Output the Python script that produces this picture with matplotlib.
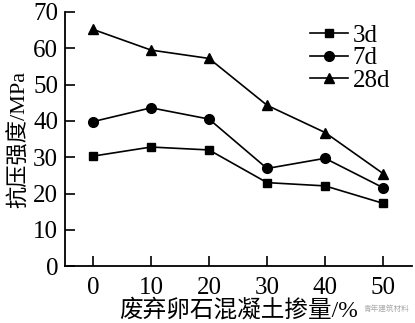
import matplotlib
matplotlib.use("Agg")
import matplotlib.pyplot as plt

plt.rcParams['font.family'] = ['Liberation Serif', 'Noto Sans CJK SC']
plt.rcParams['mathtext.fontset'] = 'stix'

# content of waste pebble concrete, %
dosage = [0, 10, 20, 30, 40, 50]
# compressive strength, MPa
s3d = [30.3, 32.8, 32.0, 23.0, 22.1, 17.3]
s7d = [39.8, 43.6, 40.5, 26.9, 29.7, 21.6]
s28d = [65.2, 59.5, 57.2, 44.3, 36.8, 25.5]
labels = ['3d', '7d', '28d']
yticks = [0, 10, 20, 30, 40, 50, 60, 70]

fig = plt.figure(figsize=(4.15, 3.23), dpi=100)
ax = fig.add_axes([0.157, 0.176, 0.836, 0.787])

ax.plot(dosage, s3d, color='black', lw=1.2, marker='s', ms=6, label=labels[0])
ax.plot(dosage, s7d, color='black', lw=1.2, marker='o', ms=7, label=labels[1])
ax.plot(dosage, s28d, color='black', lw=1.2, marker='^', ms=7.5, label=labels[2])

ax.set_xlim(-4.8, 55)
ax.set_ylim(0, 70)
ax.set_xticks(dosage)
ax.set_yticks(yticks)
ax.spines['top'].set_visible(False)
ax.spines['right'].set_visible(False)
for s in ('left', 'bottom'):
    ax.spines[s].set_linewidth(1.3)
ax.tick_params(direction='in', length=7, width=1.2, labelsize=18, pad=5)
ax.tick_params(axis='x', pad=8)

ax.set_ylabel('抗压强度/MPa', fontsize=16, labelpad=2)
ax.set_xlabel('废弃卵石混凝土掺量/%', fontsize=17, labelpad=0)

leg = ax.legend(loc='upper right', bbox_to_anchor=(0.98, 1.01), frameon=False,
                fontsize=18, handlelength=1.5, handletextpad=0.2,
                labelspacing=0.0, borderaxespad=0.2)

# watermark, kept just right of the x label
fig.text(0.875, 0.045, '青年建筑材料', fontsize=5.5, color='#aaaaaa',
         family=['Noto Sans CJK SC'], ha='left', va='center')

fig.savefig('out.png', dpi=100)
